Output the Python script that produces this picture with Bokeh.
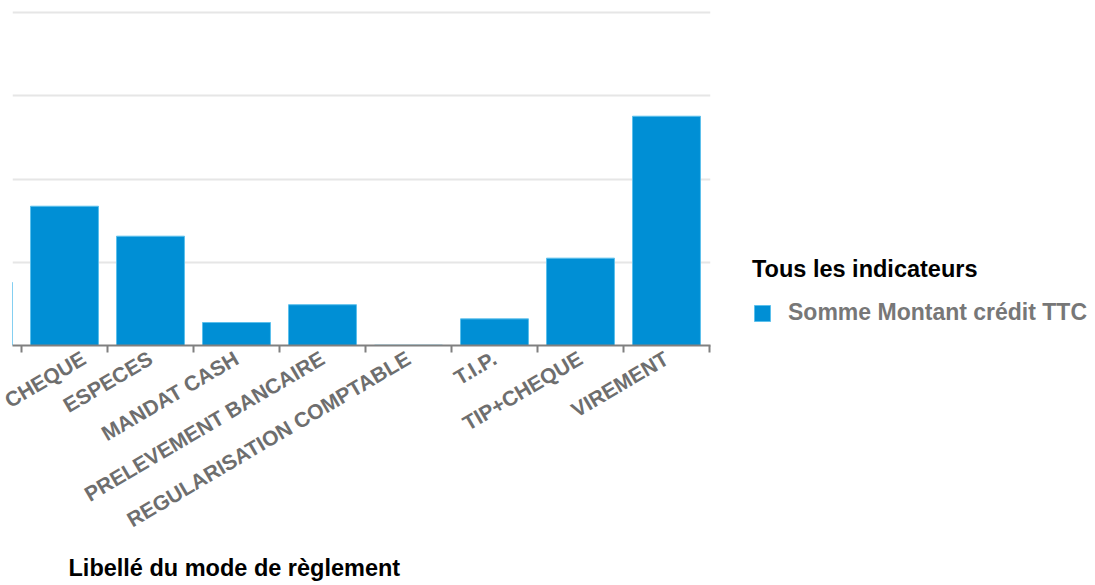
import math
from bokeh.plotting import figure
from bokeh.models import (ColumnDataSource, Range1d, FixedTicker, LinearAxis,
                          Legend, LegendItem, Title, Grid)
from bokeh.embed import file_html
from bokeh.resources import INLINE

# ---- data ----
categories = ["CARTE BANCAIRE", "CHEQUE", "ESPECES", "MANDAT CASH", "PRELEVEMENT BANCAIRE",
              "REGULARISATION COMPTABLE", "T.I.P.", "TIP+CHEQUE", "VIREMENT"]
values = [76000, 167300, 131300, 27600, 49000, 400, 32000, 104900, 275400]
series_name = "Somme Montant crédit TTC"
legend_title = "Tous les indicateurs"
x_title = "Libellé du mode de règlement"
grid_step = 100000

centers = [i + 0.5 for i in range(len(categories))]
bounds = [float(i) for i in range(len(categories) + 1)]

FONT = "Liberation Sans"
BLUE = "#008FD5"

src = ColumnDataSource(dict(x=centers, top=values, cat=categories))

p = figure(frame_width=698, frame_height=335,
           x_range=Range1d(1 - 9 / 86, 1 - 9 / 86 + 698 / 86),
           y_range=Range1d(0, 4 * grid_step * 335 / 333),
           output_backend="svg", toolbar_location=None,
           min_border_left=12, min_border_top=10, min_border_right=0, min_border_bottom=0,
           x_axis_type=None, y_axis_type=None)
p.outline_line_color = None
p.background_fill_color = "white"
p.border_fill_color = "white"

r = p.vbar(x="x", top="top", width=0.79, source=src, fill_color=BLUE,
           line_color="#5CC0EC", line_width=1)

# x axis: labels at category centres, tick marks at category boundaries
ticker = FixedTicker(ticks=centers, minor_ticks=bounds)
xaxis = LinearAxis(ticker=ticker)
xaxis.major_label_overrides = {c: name for c, name in zip(centers, categories)}
xaxis.major_tick_line_color = None
xaxis.minor_tick_in = 0
xaxis.minor_tick_out = 7
xaxis.minor_tick_line_color = "#808080"
xaxis.minor_tick_line_width = 2
xaxis.axis_line_color = "#808080"
xaxis.axis_line_width = 2
xaxis.major_label_orientation = math.radians(30.5)
xaxis.major_label_text_font = FONT
xaxis.major_label_text_font_style = "bold"
xaxis.major_label_text_font_size = "21px"
xaxis.major_label_text_color = "#6E6E6E"
xaxis.major_label_standoff = 4
p.add_layout(xaxis, "below")

# y grid only (no visible y axis)
yaxis = LinearAxis(ticker=FixedTicker(ticks=[grid_step * k for k in range(5)]), visible=False)
p.add_layout(yaxis, "left")
p.add_layout(Grid(dimension=1, ticker=yaxis.ticker, grid_line_color="#E6E6E6", grid_line_width=2))

# axis title
p.add_layout(Title(text=x_title, align="left", offset=56, text_font=FONT,
                   text_font_size="23.5px", text_font_style="bold", text_color="black",
                   standoff=16), "below")

# legend
legend = Legend(items=[LegendItem(label=series_name, renderers=[r])],
                title=legend_title, location=(42, 19))
legend.title_text_font = FONT
legend.title_text_font_size = "23.5px"
legend.title_text_font_style = "bold"
legend.title_text_color = "black"
legend.title_standoff = 16
legend.label_text_font = FONT
legend.label_text_font_size = "23px"
legend.label_text_font_style = "bold"
legend.label_text_color = "#777777"
legend.glyph_width = 20
legend.glyph_height = 20
legend.label_standoff = 16
legend.padding = 0
legend.margin = 0
legend.border_line_color = None
legend.background_fill_alpha = 0
p.add_layout(legend, "right")

open("out.html", "w").write(file_html(p, INLINE))
